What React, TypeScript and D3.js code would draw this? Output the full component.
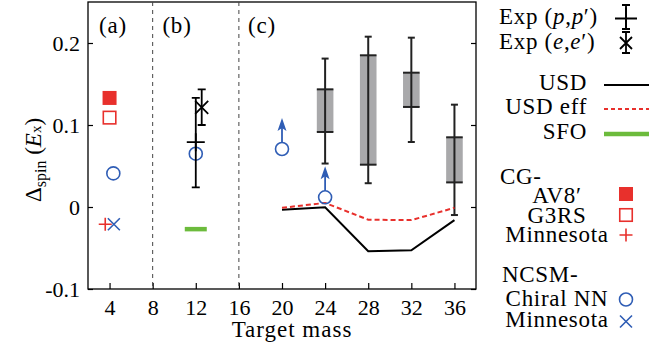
import React, { useEffect, useRef } from 'react';
import * as d3 from 'd3';

const W = 670;
const H = 351;
const FONT = 'Liberation Serif, DejaVu Serif, serif';
const RED = '#e8302c';
const BLUE = '#2f5db5';
const GREEN = '#6cbb3c';
const GREY = '#a9a9ab';

// axes
const xTicks = [4, 8, 12, 16, 20, 24, 28, 32, 36];
const yTicks = [-0.1, 0, 0.1, 0.2];
const dividers = [8, 16];

// (a) CG / NCSM points
const cgAv8 = [{ mass: 4, value: 0.133 }];
const cgG3rs = [{ mass: 4, value: 0.109 }];
const cgMinnesota = [{ mass: 3.6, value: -0.021 }];
const ncsmChiral = [{ mass: 4.35, value: 0.041 }, { mass: 12, value: 0.065 }];
const ncsmMinnesota = [{ mass: 4.4, value: -0.021 }];

// (b) experiment + SFO
const expPP = [{ mass: 12, value: 0.079, lo: 0.024, hi: 0.133 }];
const expEE = [{ mass: 12.55, value: 0.1215, lo: 0.1, hi: 0.1435 }];
const sfo = [{ mass: 12, value: -0.027 }];

// (c) lower limits (circle + arrow) and ranges
const lowerLimits = [{ mass: 20, value: 0.0707 }, { mass: 24, value: 0.0118 }];
const ranges = [
  { mass: 24, boxLo: 0.0915, boxHi: 0.1435, lo: 0.053, hi: 0.181 },
  { mass: 28, boxLo: 0.0516, boxHi: 0.185, lo: 0.029, hi: 0.2077 },
  { mass: 32, boxLo: 0.122, boxHi: 0.1638, lo: 0.0793, hi: 0.2065 },
  { mass: 36, boxLo: 0.03, boxHi: 0.085, lo: -0.0098, hi: 0.1248 },
];
const usdMass = [20, 24, 28, 32, 36];
const usd = [-0.0033, -0.0004, -0.054, -0.0528, -0.016];
const usdEff = [-0.001, 0.005, -0.0155, -0.016, -0.001];

const panelLabels = ['(a)', '(b)', '(c)'];

export default function App() {
  const ref = useRef<SVGSVGElement>(null);

  useEffect(() => {
    const svg = d3.select(ref.current);
    svg.selectAll('*').remove();

    const left = 88, right = 476, top = 2, bottom = 289;
    const x = d3.scaleLinear().domain([2, 38]).range([left, right]);
    const y = d3.scaleLinear().domain([-0.1, 0.25]).range([bottom, top]);

    // 坐标轴
    const fmt = (d: number) => (d === 0 ? '0' : d.toFixed(1));
    const ax = svg.append('g');
    const yl = ax.append('g').attr('transform', `translate(${left},0)`)
      .call(d3.axisLeft(y).tickValues(yTicks).tickSize(-5).tickPadding(8).tickFormat(fmt as any));
    const yr = ax.append('g').attr('transform', `translate(${right},0)`)
      .call(d3.axisRight(y).tickValues(yTicks).tickSize(-5).tickFormat(() => ''));
    const xb = ax.append('g').attr('transform', `translate(0,${bottom})`)
      .call(d3.axisBottom(x).tickValues(xTicks).tickSize(-6).tickPadding(10).tickFormat(d3.format('d') as any));
    [yl, yr, xb].forEach(g => {
      g.select('.domain').remove();
      g.selectAll('line').attr('stroke', '#000').attr('stroke-width', 1.2);
      g.selectAll('text').attr('font-family', FONT).attr('font-size', 22).attr('fill', '#000');
    });
    svg.append('rect')
      .attr('x', left).attr('y', top).attr('width', right - left).attr('height', bottom - top)
      .attr('fill', 'none').attr('stroke', '#000').attr('stroke-width', 1.3);

    // 分隔线
    svg.selectAll('.div').data(dividers).enter().append('line')
      .attr('x1', d => x(d)).attr('x2', d => x(d)).attr('y1', top).attr('y2', bottom)
      .attr('stroke', '#444').attr('stroke-width', 1).attr('stroke-dasharray', '4,4');

    // panel labels
    const labelX = [113, 177, 262];
    panelLabels.forEach((t, i) => {
      svg.append('text').attr('x', labelX[i]).attr('y', 33).attr('text-anchor', 'middle')
        .attr('font-family', FONT).attr('font-size', 23).attr('letter-spacing', 0.8).text(t);
    });

    // axis titles
    svg.append('text').attr('x', 292).attr('y', 337).attr('text-anchor', 'middle')
      .attr('font-family', FONT).attr('font-size', 23).attr('letter-spacing', 1).text('Target mass');
    const yt = svg.append('text').attr('transform', 'translate(41,160) rotate(-90)')
      .attr('text-anchor', 'middle').attr('font-family', FONT).attr('font-size', 23);
    yt.append('tspan').text('Δ');
    yt.append('tspan').attr('font-size', 16).attr('dy', 5).text('spin');
    yt.append('tspan').attr('dy', -5).text(' (');
    yt.append('tspan').attr('font-style', 'italic').text('E');
    yt.append('tspan').attr('font-size', 15).text('x');
    yt.append('tspan').text(')');

    const sw = 2;
    // ranges: error bar + grey box
    const rg = svg.append('g');
    ranges.forEach(d => {
      const cx = x(d.mass);
      rg.append('line').attr('x1', cx).attr('x2', cx).attr('y1', y(d.hi)).attr('y2', y(d.lo))
        .attr('stroke', '#222').attr('stroke-width', sw);
      [d.hi, d.lo].forEach(v => rg.append('line').attr('x1', cx - 3.5).attr('x2', cx + 3.5)
        .attr('y1', y(v)).attr('y2', y(v)).attr('stroke', '#222').attr('stroke-width', sw));
      rg.append('rect').attr('x', cx - 8.3).attr('width', 16.6)
        .attr('y', y(d.boxHi)).attr('height', y(d.boxLo) - y(d.boxHi)).attr('fill', GREY);
      rg.append('line').attr('x1', cx).attr('x2', cx).attr('y1', y(d.boxHi)).attr('y2', y(d.boxLo))
        .attr('stroke', '#222').attr('stroke-width', sw);
      [d.boxHi, d.boxLo].forEach(v => rg.append('line').attr('x1', cx - 8.3).attr('x2', cx + 8.3)
        .attr('y1', y(v)).attr('y2', y(v)).attr('stroke', '#222').attr('stroke-width', sw));
    });

    // USD lines
    const line = d3.line<number>().x((_, i) => x(usdMass[i])).y(d => y(d));
    svg.append('path').attr('d', line(usd)).attr('fill', 'none').attr('stroke', '#000').attr('stroke-width', 2);
    svg.append('path').attr('d', line(usdEff)).attr('fill', 'none').attr('stroke', RED)
      .attr('stroke-width', 2).attr('stroke-dasharray', '5,3');

    // SFO
    sfo.forEach(d => svg.append('line').attr('x1', x(d.mass) - 11).attr('x2', x(d.mass) + 11)
      .attr('y1', y(d.value)).attr('y2', y(d.value)).attr('stroke', GREEN).attr('stroke-width', 4.5));

    // markers
    const square = (g: any, cx: number, cy: number, filled: boolean) => {
      const s = filled ? 14 : 12.5;
      g.append('rect').attr('x', cx - s / 2).attr('y', cy - s / 2).attr('width', s).attr('height', s)
        .attr('fill', filled ? RED : 'none').attr('stroke', filled ? 'none' : RED).attr('stroke-width', 1.6);
    };
    const plus = (g: any, cx: number, cy: number, half: number, color: string, w: number) => {
      g.append('path').attr('d', `M${cx - half},${cy}H${cx + half}M${cx},${cy - half}V${cy + half}`)
        .attr('stroke', color).attr('stroke-width', w).attr('fill', 'none');
    };
    const cross = (g: any, cx: number, cy: number, half: number, color: string, w: number) => {
      g.append('path').attr('d', `M${cx - half},${cy - half}L${cx + half},${cy + half}M${cx - half},${cy + half}L${cx + half},${cy - half}`)
        .attr('stroke', color).attr('stroke-width', w).attr('fill', 'none');
    };
    const circle = (g: any, cx: number, cy: number) => {
      g.append('circle').attr('cx', cx).attr('cy', cy).attr('r', 6.5)
        .attr('fill', 'none').attr('stroke', BLUE).attr('stroke-width', 1.6);
    };
    const errorBar = (g: any, cx: number, lo: number, hi: number) => {
      g.append('path').attr('d', `M${cx},${hi}V${lo}M${cx - 4},${hi}H${cx + 4}M${cx - 4},${lo}H${cx + 4}`)
        .attr('stroke', '#000').attr('stroke-width', 1.8).attr('fill', 'none');
    };

    const m = svg.append('g');
    cgAv8.forEach(d => square(m, x(d.mass), y(d.value), true));
    cgG3rs.forEach(d => square(m, x(d.mass), y(d.value), false));
    cgMinnesota.forEach(d => plus(m, x(d.mass), y(d.value), 6.5, RED, 1.6));
    ncsmChiral.forEach(d => circle(m, x(d.mass), y(d.value)));
    ncsmMinnesota.forEach(d => cross(m, x(d.mass), y(d.value), 6, BLUE, 1.6));

    expPP.forEach(d => {
      errorBar(m, x(d.mass), y(d.lo), y(d.hi));
      plus(m, x(d.mass), y(d.value), 9, '#000', 1.8);
    });
    expEE.forEach(d => {
      errorBar(m, x(d.mass), y(d.lo), y(d.hi));
      cross(m, x(d.mass), y(d.value), 6.5, '#000', 1.8);
    });

    lowerLimits.forEach(d => {
      const cx = x(d.mass), cy = y(d.value);
      circle(m, cx, cy);
      const tip = cy - 31;
      m.append('line').attr('x1', cx).attr('x2', cx).attr('y1', cy - 6.5).attr('y2', tip + 8)
        .attr('stroke', BLUE).attr('stroke-width', 1.8);
      m.append('path').attr('d', `M${cx},${tip}L${cx + 4.5},${tip + 13}L${cx},${tip + 10}L${cx - 4.5},${tip + 13}Z`)
        .attr('fill', BLUE);
    });

    // 图例
    const lg = svg.append('g').attr('font-family', FONT).attr('font-size', 23).attr('letter-spacing', 0.7);
    const lx = 626;
    lg.append('text').attr('x', 499).attr('y', 24).html('Exp (<tspan font-style="italic">p</tspan>,<tspan font-style="italic">p</tspan>′)');
    lg.append('text').attr('x', 499).attr('y', 49).html('Exp (<tspan font-style="italic">e</tspan>,<tspan font-style="italic">e</tspan>′)');
    errorBar(lg, lx, 29, 5);
    plus(lg, lx, 18.5, 11, '#000', 1.8);
    errorBar(lg, lx, 53, 32);
    cross(lg, lx, 43, 6, '#000', 1.8);

    const lineItems = [
      { t: 'USD', y: 90, stroke: '#000', w: 2, dash: null },
      { t: 'USD eff', y: 114, stroke: RED, w: 2, dash: '4,3' },
      { t: 'SFO', y: 139, stroke: GREEN, w: 4.5, dash: null },
    ];
    lineItems.forEach(d => {
      lg.append('text').attr('x', 587).attr('y', d.y).attr('text-anchor', 'end').text(d.t);
      lg.append('line').attr('x1', 604).attr('x2', 649).attr('y1', d.y - 5).attr('y2', d.y - 5)
        .attr('stroke', d.stroke).attr('stroke-width', d.w).attr('stroke-dasharray', d.dash);
    });

    lg.append('text').attr('x', 500).attr('y', 184).text('CG-');
    lg.append('text').attr('x', 557).attr('y', 203).attr('text-anchor', 'middle').text('AV8′');
    lg.append('text').attr('x', 557).attr('y', 223).attr('text-anchor', 'middle').text('G3RS');
    lg.append('text').attr('x', 557).attr('y', 242).attr('text-anchor', 'middle').text('Minnesota');
    square(lg, lx, 194, true);
    square(lg, lx, 215, false);
    plus(lg, lx, 235, 6.5, RED, 1.6);

    lg.append('text').attr('x', 502).attr('y', 282).text('NCSM-');
    lg.append('text').attr('x', 557).attr('y', 306).attr('text-anchor', 'middle').text('Chiral NN');
    lg.append('text').attr('x', 557).attr('y', 327).attr('text-anchor', 'middle').text('Minnesota');
    circle(lg, lx, 299.5);
    cross(lg, lx, 321.5, 6, BLUE, 1.6);
  }, []);

  return (
    <svg ref={ref} width={W} height={H}
      style={{ position: 'absolute', left: 0, top: 0, background: '#fff' }} />
  );
}
